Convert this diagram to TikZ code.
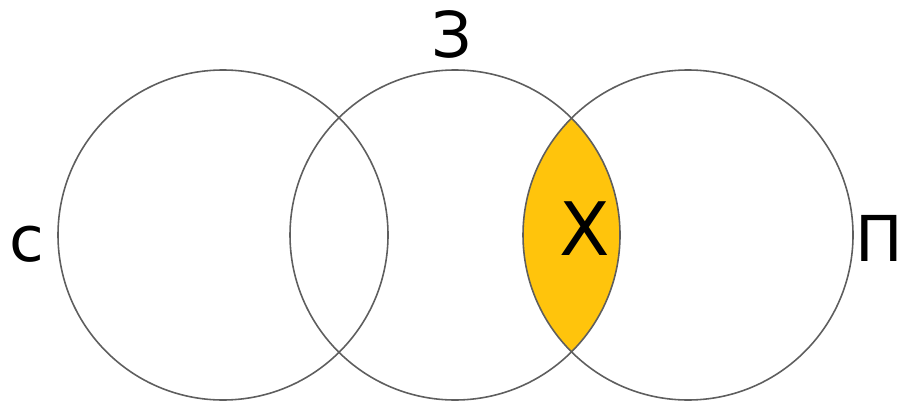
\documentclass[tikz,border=0pt]{standalone}
\usepackage{fontspec}
\setmainfont{DejaVu Sans}
\definecolor{ringgray}{HTML}{5E5E5E}
\definecolor{lensyellow}{HTML}{FFC40C}
\begin{document}
\begin{tikzpicture}[x=0.02cm, y=-0.02cm]
% Sizes in pixels of the reference
\def\radius{165}
\tikzset{
  ring/.style={draw=ringgray, line width=0.9pt},
  setlabel/.style={anchor=base, inner sep=0pt, font=\fontsize{36}{36}\selectfont},
  lenslabel/.style={anchor=base, inner sep=0pt, font=\fontsize{42}{42}\selectfont}
}
\useasboundingbox (0,0) rectangle (901,405);

% Centres of the three sets
\coordinate (cS) at (223,235);
\coordinate (cZ) at (455,235);
\coordinate (cP) at (688,235);

% Shade the common part of the middle and right sets
\begin{scope}
\clip (cZ) circle[radius=\radius];
\fill[lensyellow] (cP) circle[radius=\radius];
\end{scope}

% Draw the circles
\draw[ring] (cS) circle[radius=\radius];
\draw[ring] (cZ) circle[radius=\radius];
\draw[ring] (cP) circle[radius=\radius];

% Labels
\node[setlabel] (s) at (27,261) {с};
\node[setlabel] (z) at (452,58) {З};
\node[setlabel] (p) at (879,261) {П};
\node[lenslabel] (x) at (585,255) {Х};
\end{tikzpicture}
\end{document}
